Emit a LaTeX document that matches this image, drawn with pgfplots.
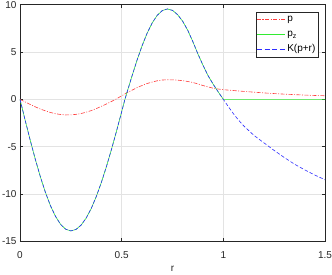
\documentclass[border=0pt]{standalone}
\usepackage{fontspec}
\setmainfont{Liberation Sans}
\usepackage{pgfplots}
\pgfplotsset{compat=1.18}
\definecolor{cred}{RGB}{255,60,60}
\definecolor{cgreen}{RGB}{50,235,50}
\definecolor{cblue}{RGB}{45,45,255}
\definecolor{axgray}{RGB}{38,38,38}
\tikzset{
  pstyle/.style={draw=cred, line width=0.6pt, dash pattern=on 4pt off 1.5pt on 1pt off 1.5pt},
  pzstyle/.style={draw=cgreen, line width=0.6pt, solid},
  kstyle/.style={draw=cblue, line width=0.6pt, dash pattern=on 3.5pt off 2pt},
}
\begin{document}
\begin{tikzpicture}
\begin{axis}[
  scale only axis, width=305pt, height=236.6pt,
  xmin=0, xmax=1.5, ymin=-15, ymax=10,
  xtick={0,0.5,1,1.5}, ytick={-15,-10,-5,0,5,10},
  grid=major, major grid style={gray!22, line width=0.5pt},
  tick align=inside, major tick length=3pt,
  axis line style={axgray, line width=0.6pt},
  tick style={axgray, line width=0.5pt},
  every tick label/.append style={font=\fontsize{10}{12}\selectfont, text=axgray},
  /pgf/number format/assume math mode=true,
  xticklabel style={yshift=-6.5pt},
  xlabel={r},
  xlabel style={at={(axis description cs:0.5,0)}, anchor=base, yshift=-30.4pt, font=\fontsize{10}{12}\selectfont, text=axgray},
  legend cell align=left,
  legend style={at={(rel axis cs:1,1)}, anchor=north east, xshift=-6.7pt, yshift=-7pt,
    draw=axgray, line width=0.5pt, fill=white,
    font=\fontsize{10}{12}\selectfont,
    inner xsep=0.7pt, inner ysep=0.3pt, row sep=0pt,
    nodes={inner sep=2pt, text height=7.5pt, text depth=3.5pt}},
]
% p
\addplot[pstyle, legend image code/.code={\draw[cred, line width=0.8pt, solid] (0pt,0.3pt) -- (4pt,0.3pt) (5.5pt,0.3pt) -- (6.7pt,0.3pt) (8.2pt,0.3pt) -- (12.2pt,0.3pt) (13.7pt,0.3pt) -- (14.9pt,0.3pt) (16.4pt,0.3pt) -- (20.4pt,0.3pt) (21.9pt,0.3pt) -- (23.1pt,0.3pt) (24.6pt,0.3pt) -- (28pt,0.3pt);}] coordinates {
(0,0) (0.025,-0.27) (0.05,-0.54) (0.075,-0.79) (0.1,-1.02) (0.125,-1.22) (0.15,-1.39)
(0.175,-1.52) (0.2,-1.60) (0.225,-1.65) (0.25,-1.64) (0.275,-1.59) (0.3,-1.50)
(0.325,-1.36) (0.35,-1.19) (0.375,-0.98) (0.4,-0.74) (0.425,-0.49) (0.45,-0.22)
(0.47,0) (0.5,0.37) (0.525,0.68) (0.55,0.96) (0.575,1.23) (0.6,1.46) (0.625,1.67)
(0.65,1.83) (0.675,1.96) (0.7,2.04) (0.725,2.07) (0.75,2.06) (0.775,2.03) (0.8,1.97)
(0.825,1.89) (0.85,1.78) (0.875,1.63) (0.9,1.46) (0.925,1.31) (0.95,1.18) (0.975,1.09)
(1.0,1.02) (1.05,0.93) (1.1,0.84) (1.15,0.76) (1.2,0.68) (1.25,0.61) (1.3,0.55)
(1.35,0.50) (1.4,0.45) (1.45,0.41) (1.5,0.38)
};
\addlegendentry{p}
% p_z
\addplot[pzstyle, legend image code/.code={\draw[cgreen, line width=0.8pt, solid] (0pt,0.3pt) -- (28pt,0.3pt);}] coordinates {
(0,0) (0.025,-2.17) (0.05,-4.30) (0.075,-6.31) (0.1,-8.17) (0.125,-9.83) (0.15,-11.25)
(0.175,-12.38) (0.2,-13.22) (0.225,-13.73) (0.25,-13.90) (0.275,-13.75) (0.3,-13.30)
(0.325,-12.56) (0.35,-11.55) (0.375,-10.28) (0.4,-8.79) (0.425,-7.11) (0.45,-5.28)
(0.475,-3.33) (0.5,-1.31) (0.516,0) (0.525,0.65) (0.55,2.41) (0.575,4.10) (0.6,5.64)
(0.625,6.98) (0.65,8.07) (0.675,8.88) (0.7,9.38) (0.725,9.55) (0.75,9.40) (0.775,8.95)
(0.8,8.25) (0.825,7.30) (0.85,6.10) (0.875,4.80) (0.9,3.60) (0.925,2.50) (0.95,1.60)
(0.975,0.78) (1.0,0) (1.25,0) (1.5,0)
};
\addlegendentry{p\textsubscript{z}}
% K(p+r)
\addplot[kstyle, legend image code/.code={\draw[cblue, line width=0.8pt, solid] (0pt,0.3pt) -- (5pt,0.3pt) (7.7pt,0.3pt) -- (12.7pt,0.3pt) (15.3pt,0.3pt) -- (20.3pt,0.3pt) (23pt,0.3pt) -- (28pt,0.3pt);}] coordinates {
(0,0) (0.025,-2.17) (0.05,-4.30) (0.075,-6.31) (0.1,-8.17) (0.125,-9.83) (0.15,-11.25)
(0.175,-12.38) (0.2,-13.22) (0.225,-13.73) (0.25,-13.90) (0.275,-13.75) (0.3,-13.30)
(0.325,-12.56) (0.35,-11.55) (0.375,-10.28) (0.4,-8.79) (0.425,-7.11) (0.45,-5.28)
(0.475,-3.33) (0.5,-1.31) (0.516,0) (0.525,0.65) (0.55,2.41) (0.575,4.10) (0.6,5.64)
(0.625,6.98) (0.65,8.07) (0.675,8.88) (0.7,9.38) (0.725,9.55) (0.75,9.40) (0.775,8.95)
(0.8,8.25) (0.825,7.30) (0.85,6.10) (0.875,4.80) (0.9,3.60) (0.925,2.50) (0.95,1.60)
(0.975,0.78) (1.0,0) (1.025,-0.78) (1.05,-1.53) (1.075,-2.20) (1.1,-2.80) (1.15,-3.80)
(1.2,-4.60) (1.25,-5.40) (1.3,-6.15) (1.35,-6.85) (1.4,-7.45) (1.45,-8.00) (1.5,-8.50)
};
\addlegendentry{K(p+r)}
\end{axis}
\pgfresetboundingbox
\path[use as bounding box] ([shift={(-20pt,-32.7pt)}]current axis.south west) rectangle ([shift={(7pt,4.7pt)}]current axis.north east);
\end{tikzpicture}
\end{document}
